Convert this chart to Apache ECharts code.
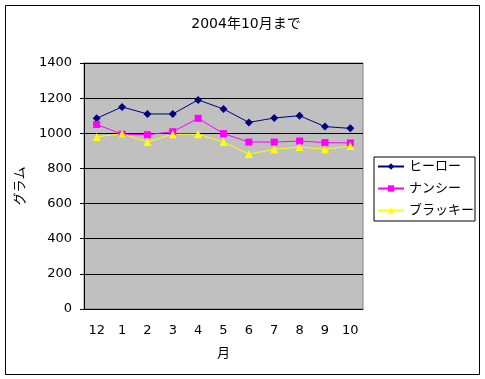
<!DOCTYPE html>
<html>
<head>
<meta charset="utf-8">
<script src="https://cdn.jsdelivr.net/npm/echarts@6/dist/echarts.min.js"></script>
<style>html,body{margin:0;padding:0;background:#fff;}#c{width:485px;height:379px;}</style>
</head>
<body>
<div id="c"></div>
<script>
const months = ['12','1','2','3','4','5','6','7','8','9','10'];
const hero = [1085, 1150, 1110, 1110, 1190, 1138, 1062, 1087, 1100, 1038, 1028];
const nancy = [1050, 995, 992, 1009, 1085, 998, 950, 950, 956, 947, 945];
const bracky = [979, 998, 950, 995, 995, 950, 882, 909, 922, 909, 928];
const yTicks = [0, 200, 400, 600, 800, 1000, 1200, 1400];

const FONT = '"DejaVu Sans", "Noto Sans CJK JP", sans-serif';
const chart = echarts.init(document.getElementById('c'));
chart.setOption({
  animation: false,
  backgroundColor: '#fff',
  textStyle: {fontFamily: FONT},
  title: {
    text: '2004年10月まで', left: 241, top: 12, textAlign: 'center',
    textStyle: {fontSize: 14, fontWeight: 'normal', color: '#000', fontFamily: FONT}
  },
  legend: {
    orient: 'vertical', left: 374, top: 157,
    padding: [3, 1, 4, 3],
    borderColor: '#000', borderWidth: 1, backgroundColor: '#fff',
    itemWidth: 26, itemHeight: 8, itemGap: 9,
    textStyle: {fontSize: 13, color: '#000', fontFamily: FONT},
    data: ['ヒーロー', 'ナンシー', 'ブラッキー']
  },
  graphic: [
    {type: 'rect', shape: {x: 5.5, y: 5.5, width: 474, height: 369}, style: {fill: 'none', stroke: '#000', lineWidth: 1}, z: -1}
  ],
  grid: {left: 84, top: 63, width: 279, height: 246, show: true, backgroundColor: '#C0C0C0', borderColor: '#808080', borderWidth: 1},
  xAxis: {
    type: 'category', data: months, boundaryGap: true,
    name: '月', nameLocation: 'middle', nameGap: 38,
    nameTextStyle: {fontSize: 13, color: '#000', fontFamily: FONT},
    axisLine: {lineStyle: {color: '#000', width: 1}},
    axisTick: {inside: true, length: 4, interval: 0, lineStyle: {color: '#000'}},
    axisLabel: {fontSize: 13, color: '#000', margin: 15, interval: 0, fontFamily: FONT}
  },
  yAxis: {
    type: 'value', min: yTicks[0], max: yTicks[yTicks.length - 1], interval: 200,
    name: 'グラム', nameLocation: 'middle', nameGap: 57, nameRotate: 90,
    nameTextStyle: {fontSize: 13, color: '#000', fontFamily: FONT},
    axisLine: {show: true, lineStyle: {color: '#000', width: 1}},
    axisTick: {show: true, length: 4, lineStyle: {color: '#000'}},
    axisLabel: {fontSize: 13, color: '#000', margin: 12, fontFamily: FONT, formatter: v => String(v)},
    splitLine: {show: true, lineStyle: {color: '#000', width: 1}}
  },
  series: [
    {name: 'ヒーロー', type: 'line', data: hero, symbol: 'diamond', symbolSize: 8,
     lineStyle: {color: '#000080', width: 1}, itemStyle: {color: '#000080'}},
    {name: 'ナンシー', type: 'line', data: nancy, symbol: 'rect', symbolSize: 7,
     lineStyle: {color: '#FF00FF', width: 1}, itemStyle: {color: '#FF00FF'}},
    {name: 'ブラッキー', type: 'line', data: bracky, symbol: 'triangle', symbolSize: 8,
     lineStyle: {color: '#FFFF00', width: 1}, itemStyle: {color: '#FFFF00'}}
  ]
});
</script>
</body>
</html>
